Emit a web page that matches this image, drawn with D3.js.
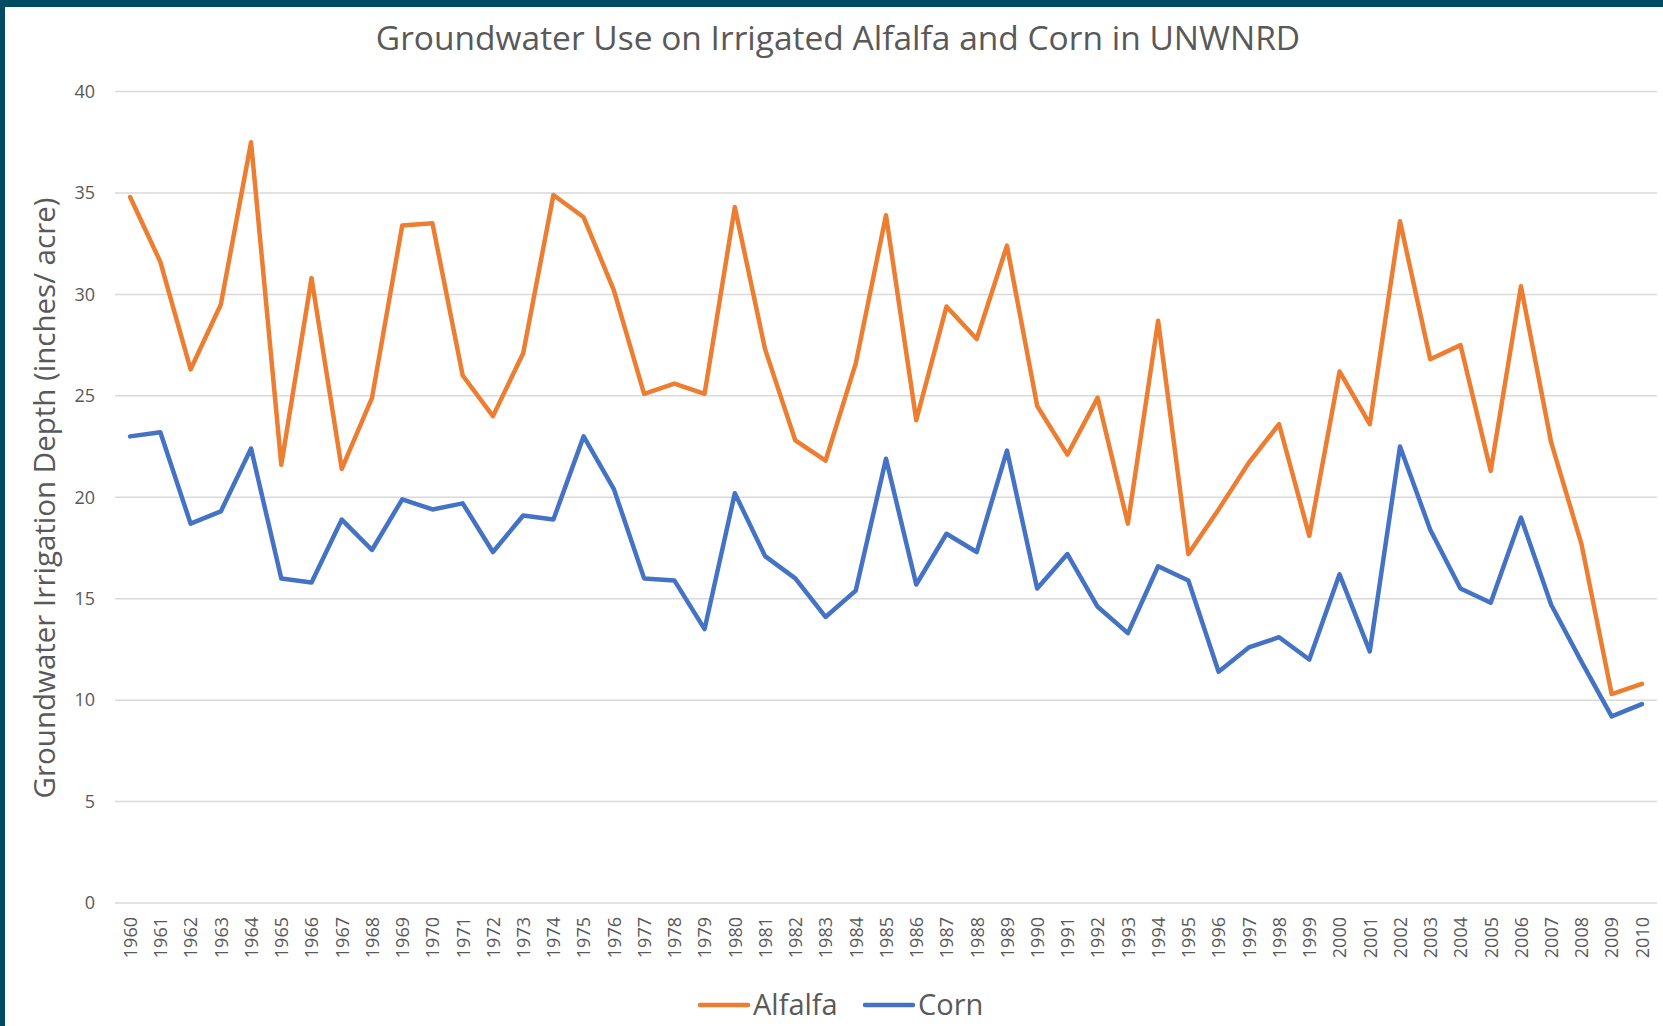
<!DOCTYPE html>
<html>
<head>
<meta charset="utf-8">
<script src="https://cdn.jsdelivr.net/npm/d3@7"></script>
<style>
  body { margin: 0; background: #fff; }
  svg text { font-family: "Open Sans", "Noto Sans", sans-serif; fill: #595959; }
  .grid line { stroke: #d9d9d9; stroke-width: 1.5px; }
  .series { fill: none; stroke-width: 4.5px; stroke-linejoin: round; stroke-linecap: round; }
</style>
</head>
<body>
<script>
// years on the x axis
var years = d3.range(1960, 2011).map(String);

// irrigation depth, inches/acre
var alfalfa = [34.8, 31.6, 26.3, 29.5, 37.5, 21.6, 30.8, 21.4, 24.9, 33.4,
               33.5, 26.0, 24.0, 27.1, 34.9, 33.8, 30.2, 25.1, 25.6, 25.1,
               34.3, 27.3, 22.8, 21.8, 26.6, 33.9, 23.8, 29.4, 27.8, 32.4,
               24.5, 22.1, 24.9, 18.7, 28.7, 17.2, 19.4, 21.7, 23.6, 18.1,
               26.2, 23.6, 33.6, 26.8, 27.5, 21.3, 30.4, 22.7, 17.7, 10.3,
               10.8];
var corn = [23.0, 23.2, 18.7, 19.3, 22.4, 16.0, 15.8, 18.9, 17.4, 19.9,
            19.4, 19.7, 17.3, 19.1, 18.9, 23.0, 20.4, 16.0, 15.9, 13.5,
            20.2, 17.1, 16.0, 14.1, 15.4, 21.9, 15.7, 18.2, 17.3, 22.3,
            15.5, 17.2, 14.6, 13.3, 16.6, 15.9, 11.4, 12.6, 13.1, 12.0,
            16.2, 12.4, 22.5, 18.4, 15.5, 14.8, 19.0, 14.7, 11.9, 9.2,
            9.8];
var yTicks = [0, 5, 10, 15, 20, 25, 30, 35, 40];

var series = [
  {name: "Alfalfa", values: alfalfa, color: "#ed7d31"},
  {name: "Corn", values: corn, color: "#4472c4"}
];

var W = 1663, H = 1026;
var svg = d3.select("body").append("svg")
  .attr("width", W)
  .attr("height", H);

// frame (top and left dark edges)
svg.append("rect").attr("x", 0).attr("y", 0).attr("width", W).attr("height", 7).attr("fill", "#004b63");
svg.append("rect").attr("x", 0).attr("y", 0).attr("width", 5).attr("height", H).attr("fill", "#004b63");

var x = d3.scalePoint().domain(years).range([115, 1657]).padding(0.5);
var y = d3.scaleLinear().domain([0, 40]).range([903, 91.5]);

// gridlines
svg.append("g").attr("class", "grid")
  .selectAll("line").data(yTicks).enter().append("line")
  .attr("x1", 115).attr("x2", 1657)
  .attr("y1", function(d) { return y(d); })
  .attr("y2", function(d) { return y(d); });

// y axis labels
var yAxis = d3.axisLeft(y).tickValues(yTicks).tickSize(0).tickPadding(0);
var gy = svg.append("g").attr("transform", "translate(95,0)").call(yAxis);
gy.select(".domain").remove();
gy.selectAll("text").style("font-size", "18px").attr("fill", "#595959");

// x axis labels (rotated)
var xAxis = d3.axisBottom(x).tickSize(0).tickPadding(0);
var gx = svg.append("g").attr("transform", "translate(0,917)").call(xAxis);
gx.select(".domain").remove();
gx.selectAll("text")
  .style("font-size", "18px")
  .attr("fill", "#595959")
  .attr("text-anchor", "end")
  .attr("dy", "0.35em")
  .attr("y", 0)
  .attr("transform", "rotate(-90)");

// lines
var line = d3.line()
  .x(function(d, i) { return x(years[i]); })
  .y(function(d) { return y(d); });

svg.selectAll("path.series").data(series).enter().append("path")
  .attr("class", "series")
  .attr("stroke", function(d) { return d.color; })
  .attr("d", function(d) { return line(d.values); });

// title
svg.append("text")
  .attr("x", 838).attr("y", 50)
  .attr("text-anchor", "middle")
  .style("font-size", "33.5px")
  .text("Groundwater Use on Irrigated Alfalfa and Corn in UNWNRD");

// y axis title
svg.append("text")
  .attr("transform", "translate(55,498) rotate(-90)")
  .attr("text-anchor", "middle")
  .style("font-size", "29.5px")
  .text("Groundwater Irrigation Depth (inches/ acre)");

// legend
var legendX = [700, 865];
var lg = svg.selectAll("g.legend").data(series).enter().append("g")
  .attr("class", "legend")
  .attr("transform", function(d, i) { return "translate(" + legendX[i] + ",1005)"; });
lg.append("line")
  .attr("x1", 0).attr("x2", 48).attr("y1", 0).attr("y2", 0)
  .attr("stroke", function(d) { return d.color; })
  .attr("stroke-width", 4.5)
  .attr("stroke-linecap", "round");
lg.append("text")
  .attr("x", 53).attr("dy", "0.35em")
  .style("font-size", "29px")
  .text(function(d) { return d.name; });
</script>
</body>
</html>
